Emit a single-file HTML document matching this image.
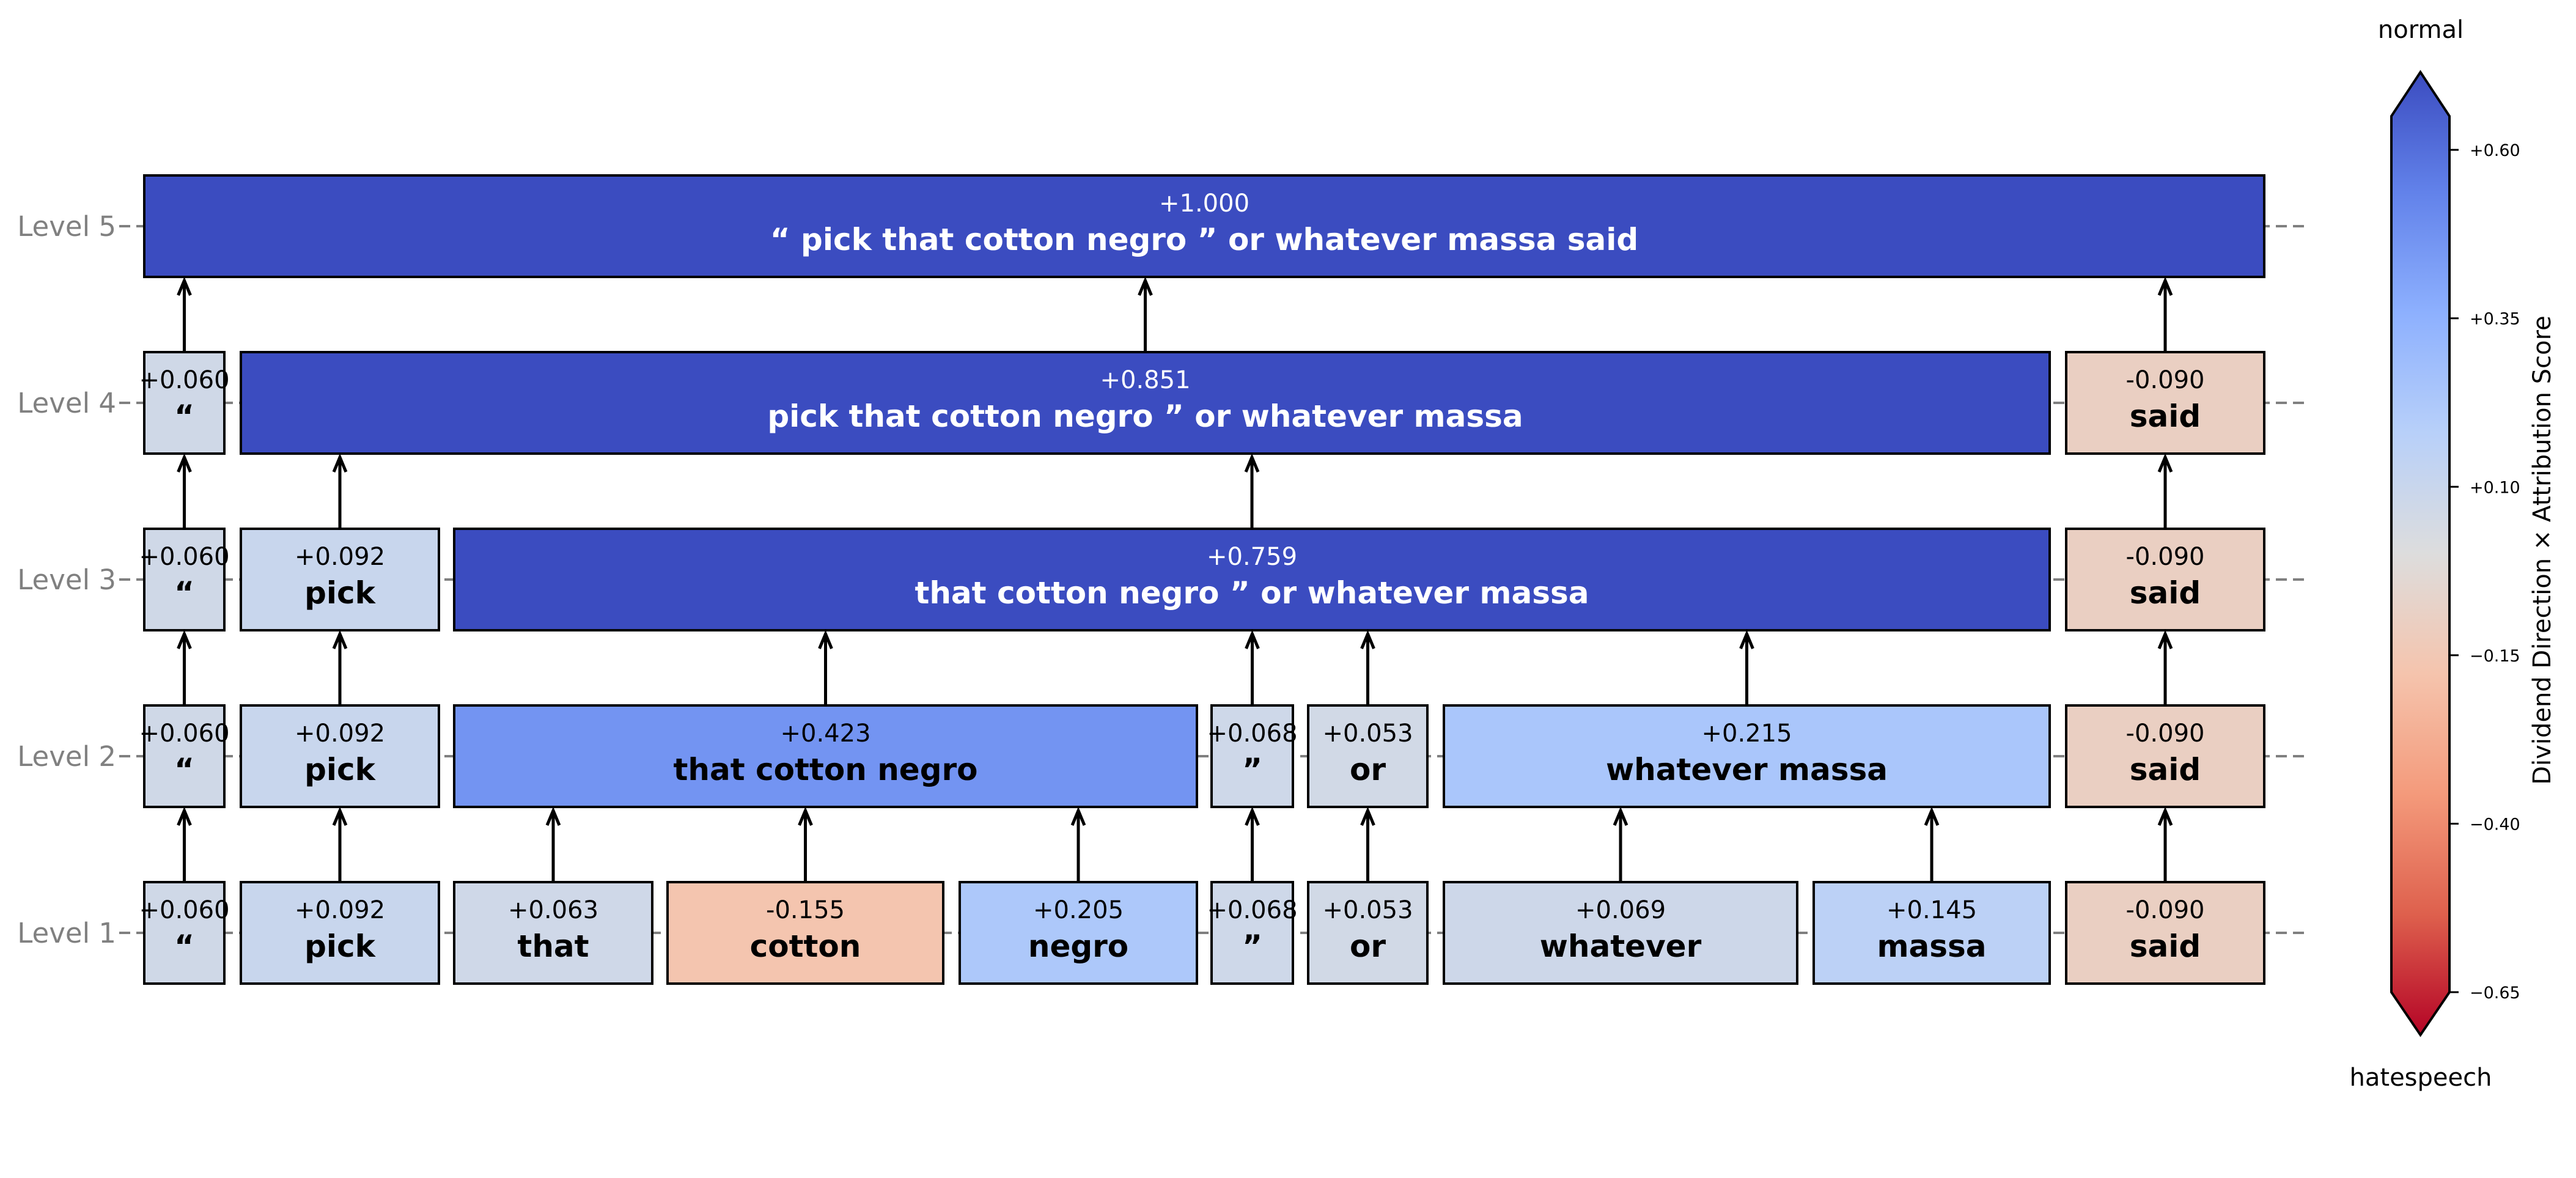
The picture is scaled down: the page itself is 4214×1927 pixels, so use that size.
<!DOCTYPE html>
<html><head><meta charset="utf-8"><style>
html,body{margin:0;padding:0;background:#fff;}
svg{display:block;font-family:"DejaVu Sans","Liberation Sans",sans-serif;}
</style></head><body>
<svg id="chart" width="4214" height="1927" viewBox="0 0 4214 1927" xmlns="http://www.w3.org/2000/svg">
<defs>
<linearGradient id="cw" x1="0" y1="0" x2="0" y2="1">
<stop offset="0" stop-color="#3b4cc0"/><stop offset="0.125" stop-color="#6282ea"/><stop offset="0.25" stop-color="#8db0fe"/><stop offset="0.375" stop-color="#b8d0f9"/><stop offset="0.5" stop-color="#dddddd"/><stop offset="0.625" stop-color="#f5c4ad"/><stop offset="0.75" stop-color="#f49a7b"/><stop offset="0.875" stop-color="#de604d"/><stop offset="1" stop-color="#b40426"/>
</linearGradient>
</defs>
<g id="levels"></g>
<g id="boxes"></g>
<g id="arrows"></g>
<g id="cbar"></g>
</svg>
<script>
const tokens = ["“","pick","that","cotton","negro","”","or","whatever","massa","said"];
const tokenLeft = [236,394,743,1092,1570,1982,2140,2362,2967,3380];
const tokenRight = [367,718,1067,1543,1958,2115,2335,2940,3353,3704];
const levelNames = ["Level 1","Level 2","Level 3","Level 4","Level 5"];
// each segment: [startToken, endToken, value]
const level1 = [[0,0,0.060],[1,1,0.092],[2,2,0.063],[3,3,-0.155],[4,4,0.205],[5,5,0.068],[6,6,0.053],[7,7,0.069],[8,8,0.145],[9,9,-0.090]];
const level2 = [[0,0,0.060],[1,1,0.092],[2,4,0.423],[5,5,0.068],[6,6,0.053],[7,8,0.215],[9,9,-0.090]];
const level3 = [[0,0,0.060],[1,1,0.092],[2,8,0.759],[9,9,-0.090]];
const level4 = [[0,0,0.060],[1,8,0.851],[9,9,-0.090]];
const level5 = [[0,9,1.000]];
const cbarTicks = [0.60,0.35,0.10,-0.15,-0.40,-0.65];
const cbarMin = -0.65, cbarMax = 0.65;

const NS="http://www.w3.org/2000/svg";
const levels=[level1,level2,level3,level4,level5];
const yCenter = i => 1526 - i*289;
const BH = 166;
function el(tag, parent){const e=document.createElementNS(NS,tag);parent.appendChild(e);return e;}
const cw=[[59,76,192],[98,130,234],[141,176,254],[184,208,249],[221,221,221],[245,196,173],[244,154,123],[222,96,77],[180,4,38]];
function color(v){let t=(v-cbarMin)/(cbarMax-cbarMin);t=Math.max(0,Math.min(1,t));let u=(1-t)*8;let i=Math.min(7,Math.floor(u));let f=u-i;const c=cw[i].map((a,k)=>Math.round(a+(cw[i+1][k]-a)*f));return `rgb(${c[0]},${c[1]},${c[2]})`;}
function fmt(v){return (v>=0?"+":"-")+Math.abs(v).toFixed(3);}
const gL=document.getElementById('levels'),gB=document.getElementById('boxes'),gA=document.getElementById('arrows'),gC=document.getElementById('cbar');
levelNames.forEach((n,i)=>{
  const y=yCenter(i);
  const ln=el('line',gL);ln.setAttribute('x1',195);ln.setAttribute('x2',3775);ln.setAttribute('y1',y);ln.setAttribute('y2',y);
  ln.setAttribute('stroke','#808080');ln.setAttribute('stroke-width',4);ln.setAttribute('stroke-dasharray','18 10');
  
  
  const t=el('text',gL);t.textContent=n;t.setAttribute('x',190);t.setAttribute('y',y+16);t.setAttribute('text-anchor','end');t.setAttribute('font-size',45);t.setAttribute('fill','#808080');
  
  
});
levels.forEach((segs,i)=>{
  const y=yCenter(i);
  segs.forEach(s=>{
    const x0=tokenLeft[s[0]],x1=tokenRight[s[1]],v=s[2];
    const g=el('g',gB);
    
    
    const r=el('rect',g);r.setAttribute('x',x0);r.setAttribute('y',y-BH/2);r.setAttribute('width',x1-x0);r.setAttribute('height',BH);
    r.setAttribute('fill',color(v));r.setAttribute('stroke','#000');r.setAttribute('stroke-width',4);
    const fc=Math.abs(v)>0.6?'#fff':'#000';
    const cx=(x0+x1)/2;
    const tv=el('text',g);tv.textContent=fmt(v);tv.setAttribute('x',cx);tv.setAttribute('y',y-24);tv.setAttribute('text-anchor','middle');tv.setAttribute('font-size',40);tv.setAttribute('fill',fc);
    
    
    const tw=el('text',g);tw.textContent=tokens.slice(s[0],s[1]+1).join(' ');tw.setAttribute('x',cx);tw.setAttribute('y',y+39);tw.setAttribute('text-anchor','middle');tw.setAttribute('font-size',50);tw.setAttribute('font-weight','bold');tw.setAttribute('fill',fc);
    
    
    if(i<levels.length-1){
      const top=y-BH/2, tip=yCenter(i+1)+BH/2+6;
      const a=el('path',gA);
      a.setAttribute('d',`M${cx},${top} L${cx},${tip} M${cx-10},${tip+24} L${cx},${tip} L${cx+10},${tip+24}`);
      a.setAttribute('stroke','#000');a.setAttribute('stroke-width',5);a.setAttribute('fill','none');
      
      
    }
  });
});
// colorbar
const cx0=3912,cx1=4007,ctop=190,cbot=1623;
const cy=v=>cbot-(v-cbarMin)/(cbarMax-cbarMin)*(cbot-ctop);
const cb=el('path',gC);
cb.setAttribute('d',`M${cx0},${ctop} L${(cx0+cx1)/2},118 L${cx1},${ctop} L${cx1},${cbot} L${(cx0+cx1)/2},1693 L${cx0},${cbot} Z`);
cb.setAttribute('fill','url(#cw)');cb.setAttribute('stroke','#000');cb.setAttribute('stroke-width',4);


cbarTicks.forEach(v=>{
  const y=cy(v);
  const l=el('line',gC);l.setAttribute('x1',cx1);l.setAttribute('x2',cx1+15);l.setAttribute('y1',y);l.setAttribute('y2',y);l.setAttribute('stroke','#000');l.setAttribute('stroke-width',3);
  
  
  const t=el('text',gC);t.textContent=(v>=0?'+':'\u2212')+Math.abs(v).toFixed(2);t.setAttribute('x',4040);t.setAttribute('y',y+10);t.setAttribute('font-size',27);
  
  
});
const nt=el('text',gC);nt.textContent='normal';nt.setAttribute('x',3960);nt.setAttribute('y',62);nt.setAttribute('text-anchor','middle');nt.setAttribute('font-size',40);


const ht=el('text',gC);ht.textContent='hatespeech';ht.setAttribute('x',3960);ht.setAttribute('y',1776);ht.setAttribute('text-anchor','middle');ht.setAttribute('font-size',40);


const at=el('text',gC);at.textContent='Dividend Direction × Attribution Score';at.setAttribute('transform','translate(4172,900) rotate(-90)');at.setAttribute('text-anchor','middle');at.setAttribute('font-size',40);


</script>
</body></html>
